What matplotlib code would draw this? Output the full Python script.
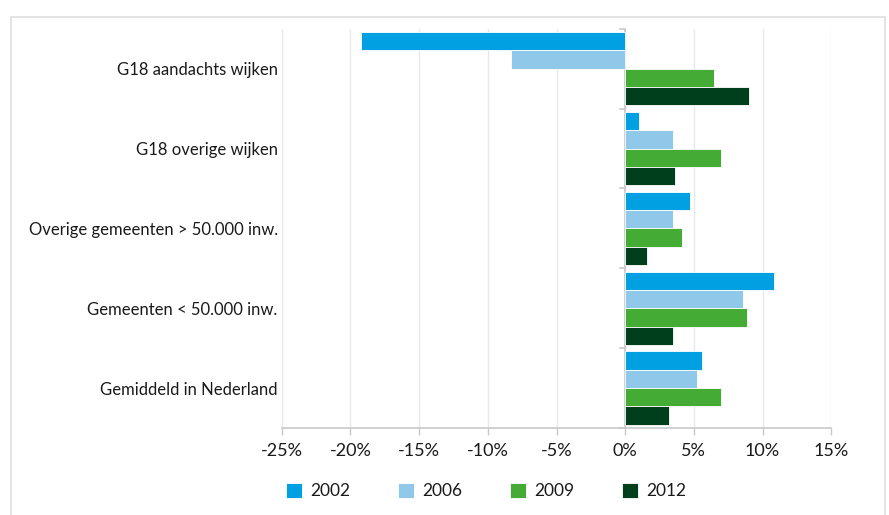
import numpy as np
import matplotlib.pyplot as plt
from matplotlib.patches import Rectangle

plt.rcParams['font.family'] = ['Lato', 'DejaVu Sans']

# categories top to bottom
categories = ['G18 aandachts wijken', 'G18 overige wijken', 'Overige gemeenten > 50.000 inw.',
              'Gemeenten < 50.000 inw.', 'Gemiddeld in Nederland']
years = ['2002', '2006', '2009', '2012']
v2002 = [-19.2, 1.0, 4.7, 10.8, 5.6]
v2006 = [-8.35, 3.45, 3.5, 8.6, 5.25]
v2009 = [6.45, 7.0, 4.1, 8.9, 7.0]
v2012 = [9.0, 3.65, 1.6, 3.45, 3.2]
colors = ['#00a0e2', '#8fc8e8', '#44ac34', '#003f1b']
xticks = [-25, -20, -15, -10, -5, 0, 5, 10, 15]

fig = plt.figure(figsize=(8.89, 5.15), dpi=100)
ax = fig.add_axes([0.317, 0.169, 0.618, 0.775])

# outer frame
fig.patches.append(Rectangle((0.012, -0.01), 0.984, 0.977, transform=fig.transFigure,
                             fill=False, edgecolor='#dedede', linewidth=1.2))

n = len(categories)
centers = np.arange(n)[::-1].astype(float)  # top group at highest y
h = 0.23
series = [v2002, v2006, v2009, v2012]
for i, (vals, col, yr) in enumerate(zip(series, colors, years)):
    y = centers + (1.5 - i) * h
    ax.barh(y, vals, height=h, color=col, edgecolor='white', linewidth=0.6, label=yr, zorder=3)

ax.set_xlim(-25, 15)
ax.set_ylim(-0.5, n - 0.5)
ax.set_xticks(xticks)
ax.set_xticklabels([f'{v}%' for v in xticks], fontsize=13, color='#1a1a1a')
ax.set_yticks(centers)
ax.set_yticklabels(categories, fontsize=12, color='#1a1a1a')
ax.tick_params(axis='y', length=0, pad=3)
ax.tick_params(axis='x', length=5, color='#c8c8c8', width=1, pad=6)

ax.grid(axis='x', color='#e8e8e8', linewidth=1, zorder=0)
for s in ['top', 'right', 'left']:
    ax.spines[s].set_visible(False)
ax.spines['bottom'].set_color('#c8c8c8')
ax.spines['bottom'].set_linewidth(1.2)

# zero axis with group boundary ticks
ax.axvline(0, color='#c8c8c8', linewidth=1.2, zorder=2)
for b in np.arange(n + 1) - 0.5:
    ax.plot([-0.35, 0], [b, b], color='#c8c8c8', linewidth=1.2, zorder=2, clip_on=False)

leg = fig.legend(loc='lower left', bbox_to_anchor=(0.304, 0.0), ncol=4, frameon=False,
                 fontsize=12.5, handlelength=0.9, handleheight=0.9, handletextpad=0.5,
                 columnspacing=2.75)
for t in leg.get_texts():
    t.set_color('#1a1a1a')

fig.savefig('out.png', dpi=100)
